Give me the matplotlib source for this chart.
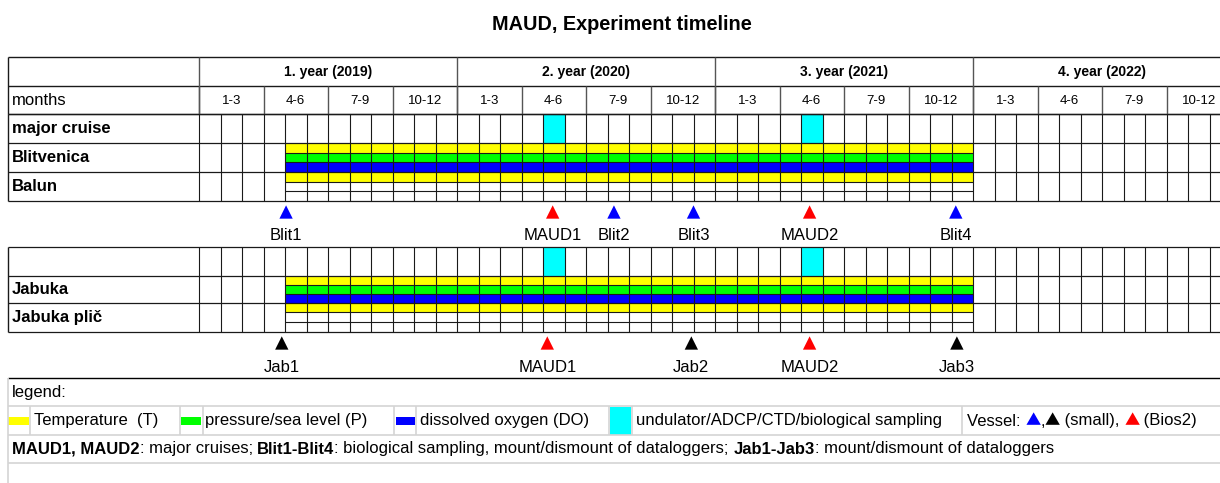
import numpy as np
import matplotlib.pyplot as plt
from matplotlib.patches import Rectangle

plt.rcParams['font.family'] = ['Liberation Sans', 'DejaVu Sans']

# ---- data ----
years = ['1. year (2019)', '2. year (2020)', '3. year (2021)', '4. year (2022)']
quarters = ['1-3', '4-6', '7-9', '10-12']
n_months = 48

# logger deployment, month index counted from Jan 2019 (end exclusive)
deploy_start = 4
deploy_end = 36
cruise_months = [16, 28]

table1_rows = ['major cruise', 'Blitvenica', 'Balun']
table2_rows = ['', 'Jabuka', 'Jabuka plič']
sensors = {'Blitvenica': ['T', 'P', 'DO'], 'Balun': ['T'],
           'Jabuka': ['T', 'P', 'DO'], 'Jabuka plič': ['T']}

events1 = ['Blit1', 'MAUD1', 'Blit2', 'Blit3', 'MAUD2', 'Blit4']
events1_pos = [4.05, 16.45, 19.3, 23.0, 28.4, 35.2]
events1_vessel = ['small', 'Bios2', 'small', 'small', 'Bios2', 'small']

events2 = ['Jab1', 'MAUD1', 'Jab2', 'MAUD2', 'Jab3']
events2_pos = [3.85, 16.2, 22.9, 28.4, 35.25]
events2_vessel = ['small', 'Bios2', 'small', 'Bios2', 'small']

sensor_colors = {'T': '#ffff00', 'P': '#00ff00', 'DO': '#0000ff'}
cruise_color = '#00ffff'
vessel_colors1 = {'small': '#0000ff', 'Bios2': '#ff0000'}
vessel_colors2 = {'small': '#000000', 'Bios2': '#ff0000'}

# ---- layout (pixels) ----
W, H = 1220, 483
X0, MW = 199, 21.5          # pixel of month 0, pixels per month
LEFT = 8
FS = 12


def px(x):
    return (x - X0) / MW


fig = plt.figure(figsize=(W / 100, H / 100), dpi=100)
ax = fig.add_axes([0, 0, 1, 1])
ax.set_xlim(px(0), px(W))
ax.set_ylim(H, 0)
ax.axis('off')
renderer = fig.canvas.get_renderer()

GRID = '#1a1a1a'
LIGHT = '#d4d4d4'


def draw_table(rows, labels, top_y, bottom_y):
    # colored bars first
    for (y0, y1), name in zip(rows, labels):
        if name in sensors:
            subs = np.linspace(y0, y1, 4)
            for i, s in enumerate(sensors[name]):
                ax.add_patch(Rectangle((deploy_start, subs[i]), deploy_end - deploy_start,
                                       subs[i + 1] - subs[i], facecolor=sensor_colors[s],
                                       edgecolor='none', zorder=1))
            ax.hlines(subs[1:3], deploy_start, deploy_end, color=GRID, lw=0.8, zorder=2)
        elif name in ('major cruise', ''):
            for m in cruise_months:
                ax.add_patch(Rectangle((m, y0), 1, y1 - y0, facecolor=cruise_color,
                                       edgecolor='none', zorder=1))
    # grid
    ax.vlines(np.arange(0, n_months + 1), top_y, bottom_y, color=GRID, lw=0.8, zorder=2)
    edges = sorted(set([r[0] for r in rows] + [r[1] for r in rows]))
    ax.hlines(edges, px(LEFT), n_months, color=GRID, lw=0.9, zorder=2)
    ax.vlines(px(LEFT), top_y, bottom_y, color=GRID, lw=1.0, zorder=2)
    for (y0, y1), name in zip(rows, labels):
        ax.text(px(12), (y0 + y1) / 2 + 0.5, name, fontsize=FS, fontweight='bold',
                va='center', ha='left', zorder=3)


# ---- title ----
ax.text(px(622), 25, 'MAUD, Experiment timeline', fontsize=14.3, fontweight='bold',
        ha='center', va='center')

# ---- table 1 header ----
ax.hlines([57, 86, 114], px(LEFT), n_months, color=GRID, lw=1.0)
ax.vlines(px(LEFT), 57, 114, color=GRID, lw=1.0)
ax.vlines(np.arange(0, n_months + 1, 12), 57, 114, color='#555555', lw=1.0)
ax.vlines(np.arange(0, n_months + 1, 3), 86, 114, color='#555555', lw=1.0)
for i, y in enumerate(years):
    ax.text(i * 12 + 6, 72, y, fontsize=10, fontweight='bold', ha='center', va='center')
for i in range(n_months // 3):
    ax.text(i * 3 + 1.5, 100.5, quarters[i % 4], fontsize=9.5, ha='center', va='center')
ax.text(px(12), 100.5, 'months', fontsize=FS, ha='left', va='center')

rows1 = [(114, 143), (143, 172), (172, 200.5)]
draw_table(rows1, table1_rows, 114, 200.5)

rows2 = [(247, 276), (276, 302.5), (302.5, 331.5)]
draw_table(rows2, table2_rows, 247, 331.5)

# ---- events ----
for names, pos, vessel, cols, ym, yt in [
        (events1, events1_pos, events1_vessel, vessel_colors1, 212, 236),
        (events2, events2_pos, events2_vessel, vessel_colors2, 343, 367.5)]:
    ax.scatter(pos, [ym] * len(pos), marker='^', s=92,
               c=[cols[v] for v in vessel], linewidths=0, zorder=3)
    for n, p in zip(names, pos):
        ax.text(p, yt, n, fontsize=FS, ha='center', va='center')

# ---- legend block ----
ax.hlines(378, px(8), n_months, color='black', lw=1.0)
ax.hlines([406, 435, 463], px(8), n_months, color=LIGHT, lw=1.2)
ax.vlines(px(8), 378, H, color=LIGHT, lw=1.2)
ax.text(px(12), 392.5, 'legend:', fontsize=FS, ha='left', va='center')

legend_items = [('Temperature  (T)', sensor_colors['T'], 8, 29, 34),
                ('pressure/sea level (P)', sensor_colors['P'], 181, 201, 205),
                ('dissolved oxygen (DO)', sensor_colors['DO'], 395.5, 414.5, 420.5)]
for label, col, x0, x1, xt in legend_items:
    ax.add_patch(Rectangle((px(x0), 416.5), (x1 - x0) / MW, 8.5, facecolor=col,
                           edgecolor='none'))
    ax.text(px(xt), 421, label, fontsize=FS, ha='left', va='center')
ax.add_patch(Rectangle((px(610), 407), 21 / MW, 27.5, facecolor=cruise_color, edgecolor='none'))
ax.text(px(636), 421, 'undulator/ADCP/CTD/biological sampling', fontsize=FS,
        ha='left', va='center')
ax.vlines([px(x) for x in (30, 180, 203, 393.5, 415.5, 609, 632, 962)], 406, 435,
          color=LIGHT, lw=1.2)


def chain(x, y, parts, size):
    # pieces of text on a shared baseline, each starting where the last one ended
    inv = ax.transData.inverted()
    for s, kw in parts:
        kw = dict(kw)
        fs = kw.pop('fontsize', size)
        t = ax.text(x, y, s, fontsize=fs, ha='left', va='baseline', **kw)
        bb = t.get_window_extent(renderer)
        x = inv.transform((bb.x1, bb.y0))[0]


# full-width triangle glyphs, like the reference
tri = {'family': ['Noto Sans CJK JP', 'DejaVu Sans'], 'fontsize': 11}
chain(px(967), 425.5, [('Vessel: ', {}), ('▲', dict(tri, color=vessel_colors1['small'])), (',', {}),
                       ('▲', dict(tri, color=vessel_colors2['small'])), (' (small), ', {}),
                       ('▲', dict(tri, color=vessel_colors1['Bios2'])), (' (Bios2)', {})], FS)

chain(px(12), 453.5, [('MAUD1, MAUD2', {'fontweight': 'bold'}), (': major cruises; ', {}),
                      ('Blit1-Blit4', {'fontweight': 'bold'}),
                      (': biological sampling, mount/dismount of dataloggers; ', {}),
                      ('Jab1-Jab3', {'fontweight': 'bold'}),
                      (': mount/dismount of dataloggers', {})], FS)

fig.savefig('out.png', dpi=100)
